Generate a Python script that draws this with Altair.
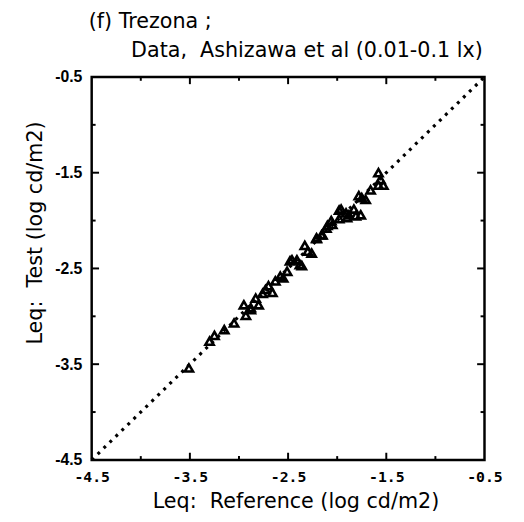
import altair as alt
import pandas as pd

# Data
ref_x = [-3.51, -3.30, -3.25, -3.15, -3.05, -2.93, -2.88, -2.95, -2.88, -2.80,
         -2.76, -2.70, -2.63, -2.58, -2.51, -2.48, -2.41, -2.36, -2.30, -2.26,
         -2.21, -2.15, -2.10, -2.06, -1.98, -1.91, -1.90, -1.81, -1.75, -1.76,
         -1.78, -1.71, -1.66, -1.58, -1.53, -1.58, -1.56,
         -2.46, -2.38, -2.33, -2.21, -2.16, -2.11, -2.05, -1.98, -1.96, -1.88,
         -1.83, -2.73, -2.66, -2.55, -2.83]
test_y = [-3.54, -3.26, -3.20, -3.14, -3.07, -2.99, -2.91, -2.88, -2.93, -2.88,
          -2.76, -2.68, -2.63, -2.58, -2.53, -2.42, -2.41, -2.47, -2.32, -2.34,
          -2.18, -2.15, -2.05, -2.00, -1.89, -1.92, -1.97, -1.95, -1.76, -1.94,
          -1.74, -1.78, -1.68, -1.50, -1.63, -1.63, -1.57,
          -2.41, -2.46, -2.26, -2.19, -2.15, -2.08, -2.04, -1.98, -1.88, -1.94,
          -1.88, -2.72, -2.75, -2.60, -2.81]

axis_min = -4.5
axis_max = -0.5
label_values = [-4.5, -3.5, -2.5, -1.5, -0.5]
major_ticks = [-3.5, -2.5, -1.5]
minor_ticks = [-4.0, -3.0, -2.0, -1.0]

title_line1 = "(f) Trezona ;"
title_line2 = "Data,\u00a0 Ashizawa et al (0.01-0.1 lx)"
x_title = "Leq:\u00a0 Reference (log cd/m2)"
y_title = "Leq:\u00a0 Test (log cd/m2)"

pts = pd.DataFrame({"ref": ref_x, "test": test_y})
diag = pd.DataFrame({"ref": [axis_min, axis_max], "test": [axis_min, axis_max]})

# tick marks drawn inward on all four sides
rows = []
for v, L in [(t, 0.075) for t in major_ticks] + [(t, 0.04) for t in minor_ticks]:
    rows.append({"x": v, "x2": v, "y": axis_min, "y2": axis_min + L})
    rows.append({"x": v, "x2": v, "y": axis_max, "y2": axis_max - L})
    rows.append({"x": axis_min, "x2": axis_min + L, "y": v, "y2": v})
    rows.append({"x": axis_max, "x2": axis_max - L, "y": v, "y2": v})
ticks = pd.DataFrame(rows)

FONT = "DejaVu Sans"

xscale = alt.Scale(domain=[axis_min, axis_max], nice=False, zero=False)
yscale = alt.Scale(domain=[axis_min, axis_max], nice=False, zero=False)

lab_expr = "'-' + format(abs(datum.value), '.1f')"

xaxis = alt.Axis(values=label_values, labelExpr=lab_expr, title=x_title,
                 grid=False, domain=False, ticks=False, labelFont="DejaVu Sans Mono",
                 labelFontSize=15, labelFontWeight="bold", labelColor="black",
                 labelPadding=10, labelFlush=False, labelOverlap=False,
                 titleFont=FONT, titleFontSize=21, titleFontWeight="normal",
                 titleColor="black", titleX=207, titleY=42, titleBaseline="middle",
                 titleAlign="center")
yaxis = alt.Axis(values=label_values, labelExpr=lab_expr, title=y_title,
                 grid=False, domain=False, ticks=False, labelFont="Liberation Sans",
                 labelFontSize=16, labelFontWeight="bold", labelColor="black",
                 labelPadding=10, labelFlush=False, labelOverlap=False,
                 titleFont=FONT, titleFontSize=21, titleFontWeight="normal",
                 titleColor="black", titleX=-57, titleY=158, titleBaseline="middle",
                 titleAlign="center", titleAngle=270)

line = alt.Chart(diag).mark_line(color="black", strokeWidth=3.2, strokeDash=[3, 5.5]).encode(
    x=alt.X("ref:Q", scale=xscale, axis=xaxis),
    y=alt.Y("test:Q", scale=yscale, axis=yaxis),
)

points = alt.Chart(pts).mark_point(shape="triangle-up", filled=False, color="black",
                                    strokeWidth=2.6, size=70, opacity=1).encode(
    x=alt.X("ref:Q", scale=xscale),
    y=alt.Y("test:Q", scale=yscale),
)

tick_layer = alt.Chart(ticks).mark_rule(color="black", strokeWidth=2).encode(
    x=alt.X("x:Q", scale=xscale),
    x2="x2:Q",
    y=alt.Y("y:Q", scale=yscale),
    y2="y2:Q",
)

t1 = alt.Chart(pd.DataFrame({"t": [title_line1]})).mark_text(
    align="left", baseline="middle", font=FONT, fontSize=21, color="black"
).encode(text="t:N", x=alt.value(-3), y=alt.value(-56))

t2 = alt.Chart(pd.DataFrame({"t": [title_line2]})).mark_text(
    align="left", baseline="middle", font=FONT, fontSize=21, color="black"
).encode(text="t:N", x=alt.value(40), y=alt.value(-26))

chart = alt.layer(tick_layer, line, points, t1, t2).properties(
    width=399,
    height=389,
    autosize=alt.AutoSizeParams(type="none"),
    padding={"left": 85, "top": 66, "right": 32, "bottom": 59},
).configure(background="white").configure_view(stroke="black", strokeWidth=2.5)

chart.save("out.html", embed_options={"renderer": "svg", "actions": False})
